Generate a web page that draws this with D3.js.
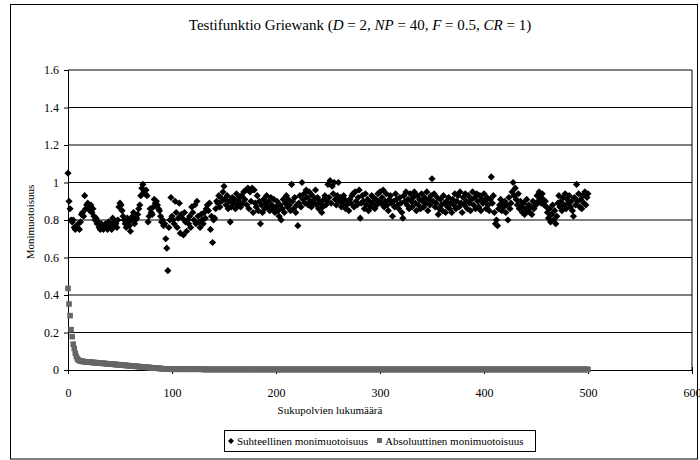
<!DOCTYPE html>
<html><head><meta charset="utf-8">
<script src="https://cdn.jsdelivr.net/npm/d3@7"></script>
<style>
html,body{margin:0;padding:0;background:#fff;}
svg{display:block;}
svg text{font-family:"Liberation Serif","Times New Roman","DejaVu Serif",serif;}
</style></head>
<body>
<svg id="chart" width="700" height="460"></svg>
<script>
// ---- data ----
const titleParts = [["Testifunktio Griewank (",false],["D",true],[" = 2, ",false],["NP",true],[" = 40, ",false],["F",true],[" = 0.5, ",false],["CR",true],[" = 1)",false]];
const xTicks = [0,100,200,300,400,500,600];
const yTicks = [0,0.2,0.4,0.6,0.8,1,1.2,1.4,1.6];
const seriesNames = ["Suhteellinen monimuotoisuus","Absoluuttinen monimuotoisuus"];
const xLabel = "Sukupolvien lukumäärä";
const yLabel = "Monimuotoisuus";

// relative diversity, generations 0..500
const relative = [
1.05,0.90,0.86,0.80,0.79,0.80,0.76,0.75,0.77,0.76,
0.78,0.75,0.79,0.83,0.84,0.82,0.93,0.86,0.88,0.89,
0.87,0.85,0.88,0.84,0.86,0.82,0.80,0.81,0.78,0.79,
0.76,0.75,0.78,0.77,0.75,0.76,0.78,0.77,0.75,0.79,
0.76,0.77,0.75,0.81,0.79,0.77,0.78,0.76,0.80,0.87,
0.89,0.88,0.85,0.82,0.80,0.78,0.76,0.81,0.79,0.77,
0.74,0.80,0.82,0.84,0.78,0.80,0.81,0.83,0.86,0.88,
0.93,0.97,0.99,0.95,0.94,0.96,0.93,0.79,0.82,0.86,
0.84,0.83,0.87,0.91,0.89,0.90,0.88,0.86,0.85,0.82,
0.79,0.80,0.77,0.78,0.70,0.65,0.53,0.76,0.80,0.92,
0.82,0.80,0.78,0.90,0.84,0.76,0.81,0.89,0.73,0.83,
0.81,0.72,0.84,0.79,0.74,0.80,0.78,0.82,0.76,0.87,
0.84,0.80,0.88,0.78,0.90,0.82,0.79,0.76,0.83,0.80,
0.78,0.84,0.81,0.86,0.88,0.85,0.89,0.75,0.82,0.68,
0.80,0.81,0.86,0.90,0.89,0.93,0.87,0.92,0.90,0.95,
0.98,0.91,0.88,0.93,0.86,0.90,0.79,0.87,0.92,0.89,
0.91,0.86,0.94,0.88,0.90,0.92,0.87,0.93,0.89,0.95,
0.91,0.96,0.88,0.97,0.86,0.95,0.90,0.97,0.84,0.96,
0.89,0.87,0.93,0.85,0.90,0.78,0.88,0.84,0.91,0.86,
0.89,0.93,0.87,0.90,0.85,0.92,0.88,0.86,0.91,0.84,
0.87,0.90,0.85,0.82,0.88,0.80,0.86,0.91,0.84,0.89,
0.93,0.87,0.91,0.88,0.85,0.99,0.90,0.86,0.92,0.84,
0.88,0.77,0.89,0.93,0.87,1.00,0.91,0.94,0.89,0.96,
0.92,0.88,0.95,0.90,0.87,0.93,0.89,0.91,0.96,0.88,
0.92,0.86,0.90,0.89,0.84,0.87,0.91,0.93,0.88,0.90,
0.99,0.92,1.01,0.89,0.98,0.94,1.00,0.91,0.88,0.93,
1.00,0.90,0.92,0.87,0.89,0.93,0.91,0.86,0.88,0.90,
0.85,0.91,0.89,0.93,0.94,0.87,0.95,0.90,0.88,0.92,
0.96,0.81,0.89,0.93,0.90,0.86,0.94,0.88,0.91,0.85,
0.90,0.87,0.93,0.89,0.92,0.86,0.91,0.88,0.94,0.90,
0.95,0.89,0.92,0.96,0.87,0.90,0.94,0.88,0.85,0.91,
0.93,0.89,0.82,0.90,0.87,0.94,0.91,0.88,0.86,0.92,
0.89,0.84,0.81,0.93,0.90,0.95,0.88,0.91,0.86,0.94,
0.90,0.87,0.92,0.95,0.89,0.85,0.93,0.88,0.91,0.86,
0.94,0.90,0.87,0.92,0.89,0.95,0.85,0.91,0.88,0.93,
1.02,0.90,0.94,0.87,0.89,0.92,0.83,0.86,0.91,0.88,
0.85,0.93,0.89,0.84,0.90,0.87,0.92,0.86,0.89,0.84,
0.91,0.88,0.94,0.86,0.90,0.93,0.87,0.95,0.89,0.84,
0.92,0.88,0.94,0.90,0.86,0.93,0.89,0.85,0.91,0.95,
0.88,0.92,0.86,0.94,0.90,0.87,0.93,0.85,0.91,0.89,
0.94,0.90,0.86,0.92,0.88,0.85,0.91,1.03,0.89,0.93,
0.84,0.78,0.80,0.77,0.86,0.88,0.91,0.85,0.89,0.87,
0.90,0.84,0.88,0.80,0.92,0.86,0.89,0.95,1.00,0.93,
0.97,0.91,0.88,0.94,0.86,0.90,0.87,0.84,0.89,0.83,
0.86,0.91,0.85,0.88,0.84,0.87,0.83,0.90,0.86,0.89,
0.88,0.93,0.90,0.95,0.92,0.89,0.94,0.91,0.88,0.90,
0.87,0.84,0.81,0.86,0.79,0.83,0.88,0.80,0.85,0.78,
0.82,0.89,0.93,0.87,0.90,0.85,0.92,0.88,0.94,0.86,
0.91,0.89,0.93,0.87,0.90,0.85,0.82,0.92,0.88,0.99,
0.90,0.94,0.87,0.91,0.86,0.93,0.89,0.95,0.88,0.92,
0.94];

// absolute diversity, generations 0..500
const absolute = [
0.435,0.352,0.290,0.215,0.178,0.138,0.115,0.090,0.072,0.060,
0.053,0.050,0.048,0.047,0.046,0.045,0.044,0.044,0.043,0.043,
0.042,0.042,0.041,0.041,0.040,0.040,0.039,0.039,0.038,0.038,
0.037,0.037,0.036,0.036,0.035,0.035,0.034,0.034,0.033,0.033,
0.032,0.032,0.031,0.031,0.030,0.030,0.029,0.029,0.028,0.028,
0.027,0.027,0.026,0.026,0.025,0.025,0.024,0.024,0.023,0.023,
0.022,0.022,0.021,0.021,0.020,0.020,0.019,0.019,0.018,0.018,
0.017,0.017,0.016,0.016,0.015,0.015,0.014,0.014,0.013,0.013,
0.012,0.012,0.011,0.011,0.010,0.010,0.009,0.009,0.008,0.008,
0.007,0.007,0.006,0.006,0.006,0.005,0.005,0.005,0.004,0.004,
0.004,0.004,0.004,0.004,0.004,0.004,0.004,0.004,0.004,0.004,
0.004,0.004,0.004,0.004,0.004,0.004,0.004,0.004,0.004,0.004,
0.004,0.004,0.004,0.004,0.004,0.004,0.004,0.004,0.004,0.004,
0.003,0.003,0.003,0.003,0.003,0.003,0.003,0.003,0.003,0.003,
0.003,0.003,0.003,0.003,0.003,0.003,0.003,0.003,0.003,0.003,
0.003,0.003,0.003,0.003,0.003,0.003,0.003,0.003,0.003,0.003,
0.003,0.003,0.003,0.003,0.003,0.003,0.003,0.003,0.003,0.003,
0.003,0.003,0.003,0.003,0.003,0.003,0.003,0.003,0.003,0.003,
0.003,0.003,0.003,0.003,0.003,0.003,0.003,0.003,0.003,0.003,
0.003,0.003,0.003,0.003,0.003,0.003,0.003,0.003,0.003,0.003,
0.003,0.003,0.003,0.003,0.003,0.003,0.003,0.003,0.003,0.003,
0.003,0.003,0.003,0.003,0.003,0.003,0.003,0.003,0.003,0.003,
0.003,0.003,0.003,0.003,0.003,0.003,0.003,0.003,0.003,0.003,
0.003,0.003,0.003,0.003,0.003,0.003,0.003,0.003,0.003,0.003,
0.003,0.003,0.003,0.003,0.003,0.003,0.003,0.003,0.003,0.003,
0.003,0.003,0.003,0.003,0.003,0.003,0.003,0.003,0.003,0.003,
0.003,0.003,0.003,0.003,0.003,0.003,0.003,0.003,0.003,0.003,
0.003,0.003,0.003,0.003,0.003,0.003,0.003,0.003,0.003,0.003,
0.003,0.003,0.003,0.003,0.003,0.003,0.003,0.003,0.003,0.003,
0.003,0.003,0.003,0.003,0.003,0.003,0.003,0.003,0.003,0.003,
0.003,0.003,0.003,0.003,0.003,0.003,0.003,0.003,0.003,0.003,
0.003,0.003,0.003,0.003,0.003,0.003,0.003,0.003,0.003,0.003,
0.003,0.003,0.003,0.003,0.003,0.003,0.003,0.003,0.003,0.003,
0.003,0.003,0.003,0.003,0.003,0.003,0.003,0.003,0.003,0.003,
0.003,0.003,0.003,0.003,0.003,0.003,0.003,0.003,0.003,0.003,
0.003,0.003,0.003,0.003,0.003,0.003,0.003,0.003,0.003,0.003,
0.003,0.003,0.003,0.003,0.003,0.003,0.003,0.003,0.003,0.003,
0.003,0.003,0.003,0.003,0.003,0.003,0.003,0.003,0.003,0.003,
0.003,0.003,0.003,0.003,0.003,0.003,0.003,0.003,0.003,0.003,
0.003,0.003,0.003,0.003,0.003,0.003,0.003,0.003,0.003,0.003,
0.003,0.003,0.003,0.003,0.003,0.003,0.003,0.003,0.003,0.003,
0.003,0.003,0.003,0.003,0.003,0.003,0.003,0.003,0.003,0.003,
0.003,0.003,0.003,0.003,0.003,0.003,0.003,0.003,0.003,0.003,
0.003,0.003,0.003,0.003,0.003,0.003,0.003,0.003,0.003,0.003,
0.003,0.003,0.003,0.003,0.003,0.003,0.003,0.003,0.003,0.003,
0.003,0.003,0.003,0.003,0.003,0.003,0.003,0.003,0.003,0.003,
0.003,0.003,0.003,0.003,0.003,0.003,0.003,0.003,0.003,0.003,
0.003,0.003,0.003,0.003,0.003,0.003,0.003,0.003,0.003,0.003,
0.003,0.003,0.003,0.003,0.003,0.003,0.003,0.003,0.003,0.003,
0.003,0.003,0.003,0.003,0.003,0.003,0.003,0.003,0.003,0.003,
0.003];

// ---- drawing ----
const FONT = "'Liberation Serif','Times New Roman','DejaVu Serif',serif";
const svg = d3.select("#chart");
const x = d3.scaleLinear().domain([0,600]).range([68,692]);
const y = d3.scaleLinear().domain([0,1.6]).range([370,70]);

// outer frame
svg.append("rect").attr("x",10.5).attr("y",4.5).attr("width",687).attr("height",454.5)
  .attr("fill","#fff").attr("stroke","#000").attr("stroke-width",1);

// title
const title = svg.append("text").attr("x",360).attr("y",30).attr("text-anchor","middle")
  .attr("font-family",FONT).attr("font-size",15).attr("fill","#000");
titleParts.forEach(([t,it]) => {
  title.append("tspan").text(t).attr("font-style", it ? "italic" : "normal");
});

// gridlines
svg.append("g").selectAll("line").data(yTicks.filter(d => d > 0)).join("line")
  .attr("x1",x(0)).attr("x2",x(600)).attr("y1",d => y(d)).attr("y2",d => y(d))
  .attr("stroke","#000").attr("stroke-width",1);
// right frame of plot area
svg.append("line").attr("x1",x(600)).attr("x2",x(600)).attr("y1",y(1.6)).attr("y2",y(0))
  .attr("stroke","#000").attr("stroke-width",1);

// y axis
const yAxis = d3.axisLeft(y).tickValues(yTicks).tickSize(4).tickPadding(5)
  .tickFormat(d => String(+d.toFixed(1)));
const gy = svg.append("g").attr("transform",`translate(${x(0)},0)`).call(yAxis)
  .attr("font-family",FONT).attr("font-size",12);
gy.select(".domain").attr("stroke","#000");
gy.selectAll(".tick line").attr("stroke","#000");
gy.selectAll("text").attr("fill","#000");

// x axis
const xAxis = d3.axisBottom(x).tickValues(xTicks).tickSize(4).tickPadding(14);
const gx = svg.append("g").attr("transform",`translate(0,${y(0)})`).call(xAxis)
  .attr("font-family",FONT).attr("font-size",12);
gx.select(".domain").attr("stroke","#000");
gx.selectAll(".tick line").attr("stroke","#000").attr("y1",-3);
gx.selectAll("text").attr("fill","#000");

// axis titles
svg.append("text").attr("x",330).attr("y",414).attr("text-anchor","middle")
  .attr("font-family",FONT).attr("font-size",11).text(xLabel);
svg.append("text").attr("transform",`translate(34,222) rotate(-90)`).attr("text-anchor","middle")
  .attr("font-family",FONT).attr("font-size",11).text(yLabel);

// series
const diamond = "M0,-3.6L3.6,0L0,3.6L-3.6,0Z";
const relData = relative.map((v,i) => [i,v]);
const absData = absolute.map((v,i) => [i,v]);
svg.append("g").selectAll("path").data(absData).join("path")
  .attr("transform",d => `translate(${x(d[0])},${y(d[1])})`)
  .attr("d","M-2.8,-2.8H2.8V2.8H-2.8Z").attr("fill","#666");
svg.append("g").selectAll("path").data(relData).join("path")
  .attr("transform",d => `translate(${x(d[0])},${y(d[1])})`)
  .attr("d",diamond).attr("fill","#000");

// legend
const lg = svg.append("g").attr("font-family",FONT).attr("font-size",11);
lg.append("rect").attr("x",224.5).attr("y",430.5).attr("width",311).attr("height",21)
  .attr("fill","#fff").attr("stroke","#000");
lg.append("path").attr("transform","translate(231,441)").attr("d","M0,-3L3,0L0,3L-3,0Z").attr("fill","#000");
lg.append("text").attr("x",237).attr("y",445).text(seriesNames[0]);
lg.append("rect").attr("x",377).attr("y",438).attr("width",5).attr("height",5).attr("fill","#666");
lg.append("text").attr("x",385).attr("y",445).text(seriesNames[1]);
</script>
</body></html>
